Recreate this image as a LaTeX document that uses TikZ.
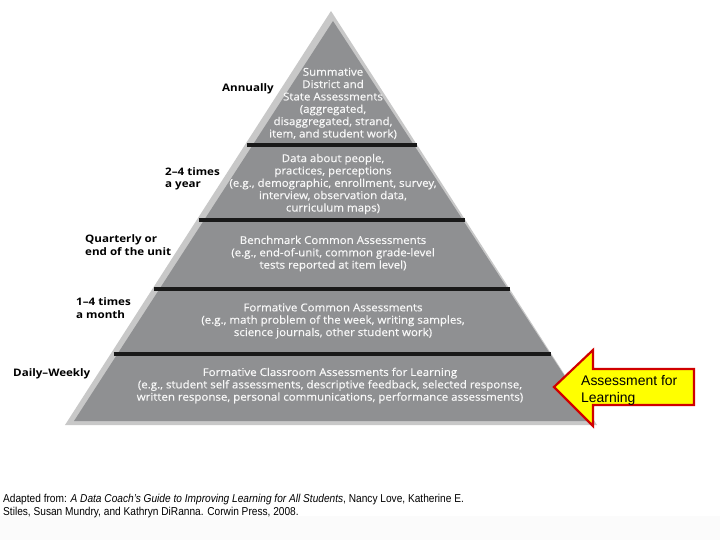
\documentclass[tikz,border=0pt]{standalone}
\usepackage{fontspec}
\setmainfont{Open Sans}
\newfontfamily\tierfont[FakeStretch=1.07,FakeBold=0.4]{Open Sans}
\newfontfamily\freqfont[FakeStretch=1.12]{Open Sans Bold}
\newfontfamily\arialfont{Liberation Sans}
\newfontfamily\captionfont[FakeStretch=0.885]{Liberation Sans}
\usetikzlibrary{calc}
\definecolor{pyrdark}{HTML}{8F9092}
\definecolor{pyrlight}{HTML}{C8C8C8}
\definecolor{pyrtext}{HTML}{F8F8F8}
\definecolor{arrowred}{HTML}{D00000}
\definecolor{arrowyellow}{HTML}{FFFF00}
\definecolor{bandgray}{HTML}{FBFBFB}
\tikzset{
  tier/.style={text=pyrtext, align=center, inner sep=0pt, font=\tierfont\fontsize{10.8}{12.4}\selectfont},
  freq/.style={align=left, inner sep=0pt, font=\freqfont\fontsize{10.4}{12.4}\selectfont},
  divider/.style={line width=3.5pt, draw=black!90},
  callout/.style={draw=arrowred, fill=arrowyellow, line width=2.2pt, line join=miter},
  calloutlabel/.style={align=left, inner sep=0pt, font=\arialfont\fontsize{14}{17}\selectfont},
  caption/.style={align=left, inner sep=0pt, font=\captionfont\fontsize{11.5}{13}\selectfont}
}
\begin{document}
\begin{tikzpicture}[x=1bp,y=-1bp]
\useasboundingbox (0,0) rectangle (720,540);
\fill[white] (0,0) rectangle (720,540);
\fill[bandgray] (0,516) rectangle (720,540);
% pyramid
\coordinate (apex) at (331,11);
\coordinate (bl) at (65,425);
\coordinate (br) at (597,425);
\fill[pyrlight] (apex) -- (bl) -- (br) -- cycle;
\fill[pyrdark] (333,21) -- (74,421) -- (594,421) -- cycle;
% dividers
\foreach \yy/\nm in {145/a,220/b,289/c,354/d}{
  \coordinate (L\nm) at ($(apex)!{(\yy-11)/414}!(bl)$);
  \coordinate (R\nm) at ($(apex)!{(\yy-11)/414}!(br)$);
}
\draw[divider] ($(La)+(2,0)$) -- (Ra);
\draw[divider] ($(Lb)+(2,0)$) -- (Rb);
\draw[divider] ($(Lc)+(2,0)$) -- (Rc);
\draw[divider] ($(Ld)+(3,0)$) -- (Rd);
% tier texts
\node[tier] (t1) at (333,103.5) {Summative\\District and\\State Assessments\\(aggregated,\\disaggregated, strand,\\item, and student work)};
\node[tier] (t2) at (333,184) {Data about people,\\practices, perceptions\\(e.g., demographic, enrollment, survey,\\interview, observation data,\\curriculum maps)};
\node[tier] (t3) at (333,253.5) {Benchmark Common Assessments\\(e.g., end-of-unit, common grade-level\\tests reported at item level)};
\node[tier] (t4) at (333,321) {Formative Common Assessments\\(e.g., math problem of the week, writing samples,\\science journals, other student work)};
\node[tier] (t5) at (330,385.5) {Formative Classroom Assessments for Learning\\(e.g., student self assessments, descriptive feedback, selected response,\\written response, personal communications, performance assessments)};
% frequency labels
\node[freq, anchor=east] (f1) at (274,89) {Annually};
\node[freq, anchor=west] (f2) at (165,178.5) {2–4 times\\a year};
\node[freq, anchor=west] (f3) at (85,245) {Quarterly or\\end of the unit};
\node[freq, anchor=west] (f4) at (76,308) {1–4 times\\a month};
\node[freq, anchor=west] (f5) at (13,374) {Daily–Weekly};
% callout arrow
\draw[callout] (554,387) -- (593,350) -- (593,369) -- (694,369) -- (694,405) -- (593,405) -- (593,426) -- cycle;
\node[calloutlabel, anchor=west] (cl) at (581,390.5) {Assessment for\\Learning};
% caption
\node[caption, anchor=west] (cap) at (3,506.5) {Adapted from: \textit{A Data Coach’s Guide to Improving Learning for All Students}, Nancy Love, Katherine E.\\Stiles, Susan Mundry, and Kathryn DiRanna. Corwin Press, 2008.};
\end{tikzpicture}
\end{document}
